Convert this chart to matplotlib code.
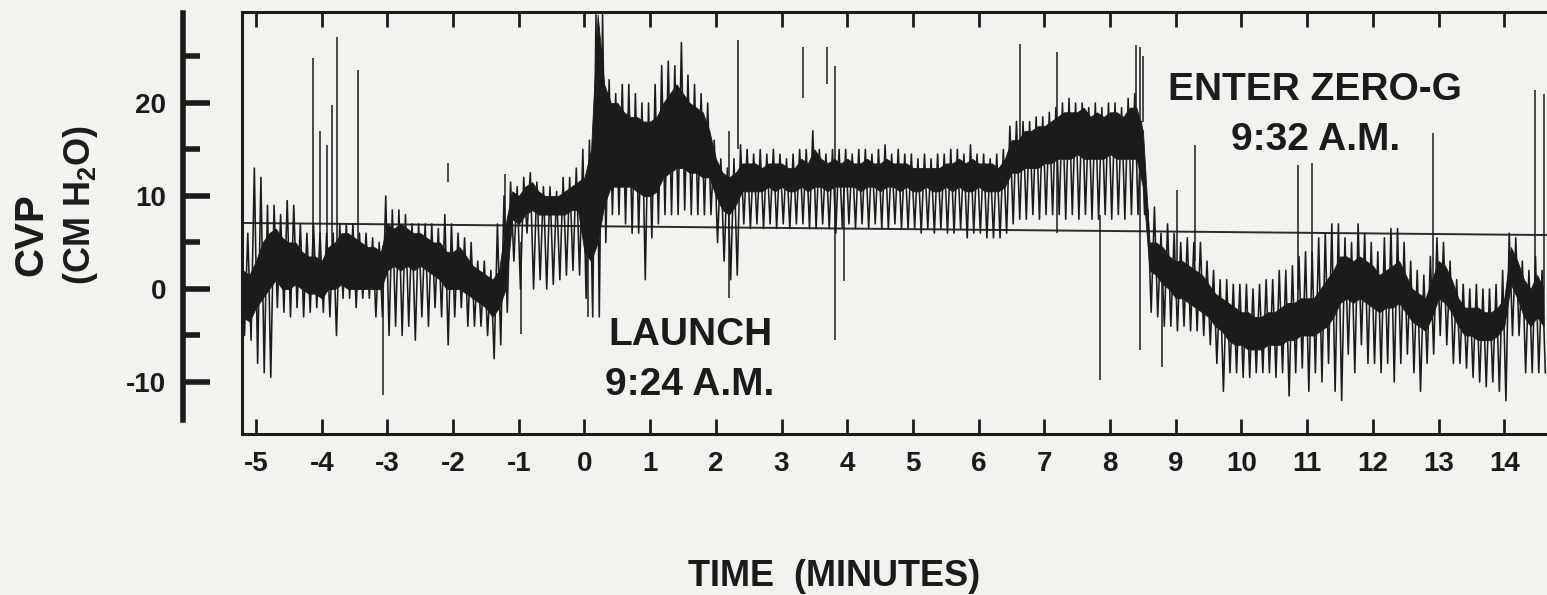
import numpy as np
import matplotlib
matplotlib.use('Agg')
import matplotlib.pyplot as plt

plt.rcParams['font.family'] = ['Liberation Sans', 'DejaVu Sans']
plt.rcParams['font.weight'] = 'bold'
plt.rcParams['axes.unicode_minus'] = False
plt.rcParams['mathtext.fontset'] = 'custom'
plt.rcParams['mathtext.rm'] = 'Liberation Sans:bold'
plt.rcParams['mathtext.it'] = 'Liberation Sans:bold'
plt.rcParams['mathtext.bf'] = 'Liberation Sans:bold'

# ---------------- data ----------------
# trace sampled every 0.1 min starting at -5.2 min
T0 = -5.2
STEP = 0.1
# dense dark band of the CVP trace (cm H2O)
core_lo = [-3, -3.5, -2, -1, 0, 1, 0, 0, 0.5, 0,
           -0.5, -0.5, -1, 0, 0, 0.5, 0, 0, 0, 0,
           0, 0, 2, 2.5, 2, 2.5, 2, 2.5, 2, 1.5,
           1, 0, 0, 0, -0.5, -1, -1.5, -2, -3, -2,
           0, 7.5, 7, 8, 8.5, 8, 8, 8, 8, 8,
           8.5, 8.5, 4, 3, 5, 9, 11, 11, 11, 11,
           10.5, 10, 10, 10.5, 12, 12.5, 13, 13, 12.5, 12.5,
           12, 12, 10, 8.5, 8, 9, 10.5, 10.5, 10.5, 10.5,
           11, 10.5, 11, 10.5, 10.5, 11, 10.5, 11, 11, 10.5,
           11, 11, 11, 11, 10.5, 11, 11, 10.5, 11, 11,
           10.5, 11, 10.5, 10.5, 11, 10.5, 10.5, 11, 10.5, 11,
           10.5, 10.5, 11, 10.5, 10.5, 10.5, 11, 12.5, 12.5, 13,
           13, 13, 13.5, 13.5, 14, 14, 14, 14.5, 14, 14,
           14, 14, 14.5, 14, 14, 14, 14, 11, 2, 1.5,
           0.5, 0, -1, -1, -1.5, -2, -2.5, -3, -4, -4.5,
           -5.5, -6, -6, -6.5, -6.5, -6.5, -6, -6, -6, -5.5,
           -5.5, -5, -5, -5, -4.5, -4, -3, -1.5, -1, -1.5,
           -1, -1.5, -2, -2.5, -2, -2, -1.5, -2.5, -3.5, -4,
           -4.5, -3, -1, -1.5, -2.5, -4, -5, -5, -5.5, -5.5,
           -5.5, -5, -4, 0.5, -1, -3, -4, -3, -4]
core_hi = [2, 1.5, 3, 5, 6, 6.5, 5.5, 5, 5, 4,
           3.5, 3.5, 3, 4.5, 5, 6, 6, 5.5, 5, 4.5,
           4.5, 4, 7, 6.5, 7, 6.5, 6, 6, 5.5, 5,
           5, 4, 4, 4.5, 3.5, 2.5, 2, 1.5, 1, 2,
           7, 10.5, 10, 11, 11.5, 10.5, 10, 10, 10, 10.5,
           11, 11.5, 12, 15, 29.5, 22, 20, 20, 19, 18.5,
           18.5, 18, 18, 18.5, 20, 21, 22, 21, 20, 19.5,
           19, 17, 14, 12.5, 12, 12.5, 13.5, 13.5, 13.5, 13,
           13.5, 13.5, 13.5, 13, 13, 14, 13.5, 15, 14, 13.5,
           14, 13.5, 14, 13.5, 13.5, 14, 13.5, 13.5, 14, 13.5,
           13.5, 13.5, 13, 13, 13, 13, 13, 13.5, 13.5, 14,
           13.5, 14, 13.5, 13.5, 13.5, 13, 14, 16, 16, 17,
           17, 17.5, 17.5, 18, 18.5, 19, 19, 19, 19.5, 18.5,
           19, 18.5, 19, 19, 18.5, 19.5, 19.5, 17, 5, 5,
           4.5, 3.5, 3, 3, 2.5, 2, 1.5, 0.5, -0.5, -1,
           -1.5, -2, -2.5, -2.5, -3, -3, -2.5, -2.5, -2, -1.5,
           -1.5, -1, -1, -1, 0, 1, 2, 3.5, 3.5, 3,
           3.5, 3, 2.5, 1.5, 2, 2.5, 3, 1.5, 0, -0.5,
           -1, 1, 3, 2.5, 1, -1, -2, -2, -2, -2.5,
           -2.5, -2, -1, 4.5, 3, 1, 0, 1.5, 0]
# extent of the thin oscillation strokes around the band
wh_lo = [-5, -5.5, -8, -9, -9.5, -2, -2.5, -3, -2, -3,
         -2.5, -2, -2.5, -3, -5, -1, -1, -2, -1, -1,
         -3, -3, -5, -4, -5, -4, -5.5, -3, -4, -2,
         -3, -6, -3, -2, -4, -4, -4, -5, -7.5, -6,
         -2.5, 3, 0, 6, 0, 1, 0, 0.5, 1, 1.5,
         2, 1.5, -1, -3, -3, 5, 8, 8, 7, 6,
         6, 1, 5.5, 7, 8, 8, 8, 8.5, 8, 8,
         8, 8, 5, 3, 1, 1.5, 7, 6.5, 7, 6.5,
         7, 6.5, 7, 6.5, 7, 7, 6.5, 6.5, 7, 6.5,
         6, 6.5, 7, 6.5, 7, 6.5, 7, 6.5, 6.5, 7,
         6.5, 6.5, 6.5, 6, 6.5, 6, 6.5, 6, 6, 6.5,
         5.5, 6, 6, 5.5, 5.5, 5.5, 6, 7, 7.5, 7.5,
         8, 7.5, 8, 8, 8, 7.5, 8, 7.5, 8, 7.5,
         7.5, 8, 7.5, 8, 7.5, 8, 8, 8, -2.5, -3,
         -4, -4, -4.5, -4, -4.5, -4.5, -5, -6, -8, -11,
         -9, -9, -9.5, -9.5, -9, -9, -9, -9.5, -9, -11.5,
         -9, -8.5, -11, -9, -10, -8, -11, -12, -7, -9,
         -6, -8, -8, -9, -8, -10, -8, -7, -9, -11,
         -8, -7, -5, -6, -8, -8, -8.5, -9.5, -10, -10.5,
         -10, -11, -12, -5, -5, -9, -9, -9, -9]
wh_hi = [5, 6, 13, 12, 9, 9, 8, 9.5, 9, 7,
         6, 7, 6, 6, 6, 7, 7, 7, 6, 6,
         5.5, 5, 10, 8.5, 8.5, 8, 7, 7, 7, 7,
         6.5, 8, 7, 6, 5.5, 5, 3, 3, 2, 7,
         10, 11.5, 11, 12, 12.5, 11.5, 11, 11, 10.5, 12,
         12, 13, 15, 16, 29.5, 29.5, 22.5, 21, 22, 22,
         21, 20, 20, 22, 24, 24.5, 24, 26.5, 23, 22,
         21, 20, 16, 14, 13, 14, 15.5, 15, 14.5, 15,
         14.5, 15, 14.5, 14, 14.5, 15, 15, 17, 15, 14.5,
         15, 15, 15, 14.5, 15, 15, 14.5, 15, 15.5, 14.5,
         15, 14.5, 14.5, 14, 14.5, 14, 14.5, 14.5, 15, 15,
         14.5, 15.5, 14.5, 14.5, 14, 14.5, 15, 17.5, 18, 18,
         18, 18.5, 18.5, 19, 19.5, 20, 20.5, 20, 20, 19.5,
         20, 19.5, 20, 20, 19.5, 20.5, 21, 18, 8.5, 8.8,
         6, 7, 6, 5, 5.5, 5, 5, 3, 2, 1,
         1, 0.5, 0.5, 0.5, 0, 0.5, 1, 1, 2, 2,
         2.5, 3.5, 4, 4, 5.5, 6, 7, 7, 5.5, 5,
         7, 6, 5, 4, 5.5, 6.5, 6.5, 5, 3, 2,
         1.5, 3.5, 5.5, 5, 3, 1, 0.5, 0, 0.5, 0,
         0, 0.5, 2, 6, 5.5, 3, 2, 3.5, 2]
# isolated artefact spikes: time (min), lower and upper end (cm H2O)
spike_t = [-4.13, -4.03, -3.92, -3.85, -3.77, -3.45, -3.07, -2.08, -1.21, -0.96,
           0.05, 2.2, 2.34, 3.33, 3.69, 3.82, 3.95, 6.63, 7.19, 7.85,
           8.4, 8.45, 8.5, 8.79, 9.02, 9.29, 10.86, 11.07, 12.92, 14.47, 14.6]
spike_lo = [3, 3, 3, 3, 3, 3, -11.4, 11.5, 5, -4.8,
            -3, -1, 15, 20.5, 22, -5.5, 0.9, 13, 6, -9.8,
            14, -6.6, 18, -8.4, 3, 3, 0, 0, 1, 0, 0]
spike_hi = [24.8, 17, 15.5, 19.8, 27.1, 23.5, 2, 13.5, 12.4, 5,
            12, 17, 26.8, 26, 26, 24, 12, 26.3, 25.5, 8,
            26.2, 26, 25, 3, 10.6, 15.5, 13.3, 13.5, 16.8, 21.4, 21]
# pre-launch reference level line
base_t = [-5.21, 14.65]
base_v = [7.1, 5.8]
# axis ticks
x_ticks = list(range(-5, 15))
x_labels = [str(v) for v in x_ticks]
y_major = [-10, 0, 10, 20]
y_minor = [-5, 5, 15, 25]

# ---------------- figure ----------------
W, H = 1547, 595
fig = plt.figure(figsize=(W / 100, H / 100), dpi=100)
bg = '#f2f2ef'
ink = '#1b1b1b'
fig.patch.set_facecolor(bg)


def fx(p):
    return p / W


def fy(p):
    return 1 - p / H


ax = fig.add_axes([fx(242), fy(434), (1560 - 242) / W, (434 - 12) / H])
ax.set_facecolor(bg)
ax.set_xlim(-5.213, 14.848)
ax.set_ylim(-15.59, 29.78)

t = T0 + STEP * np.arange(len(core_lo))
core_lo = np.array(core_lo)
core_hi = np.array(core_hi)
wh_lo = np.array(wh_lo)
wh_hi = np.array(wh_hi)

ax.fill_between(t, core_lo, core_hi, color=ink, lw=0.6, zorder=3)
zig_t = np.column_stack([t - STEP / 4, t + STEP / 4]).ravel()
zig_v = np.column_stack([wh_hi, wh_lo]).ravel()
ax.plot(zig_t, zig_v, color=ink, lw=1.15, zorder=3)
ax.vlines(spike_t, spike_lo, spike_hi, color=ink, lw=1.1, zorder=3)
ax.plot(base_t, base_v, color='#2a2a2a', lw=1.4, zorder=2)

for s in ax.spines.values():
    s.set_linewidth(2.2)
    s.set_color(ink)
ax.set_xticks(x_ticks)
ax.set_xticklabels(x_labels)
ax.set_yticks([])
ax.tick_params(axis='x', which='both', direction='in', top=True, bottom=True,
               length=11, width=2, labelsize=20, pad=12, colors=ink)

# separate CVP scale
ax2 = fig.add_axes([fx(183), fy(434), 0.0005, (434 - 12) / H])
ax2.set_ylim(-15.59, 29.78)
ax2.patch.set_visible(False)
for k in ['top', 'right', 'bottom']:
    ax2.spines[k].set_visible(False)
ax2.spines['left'].set_linewidth(4)
ax2.spines['left'].set_color(ink)
ax2.spines['left'].set_bounds(-14.1, 29.7)
ax2.set_xticks([])
ax2.set_yticks(y_major)
ax2.set_yticklabels([str(v) for v in y_major])
ax2.set_yticks(y_minor, minor=True)
ax2.tick_params(axis='y', which='major', direction='in', length=19.5, width=4,
                labelsize=20, pad=12, colors=ink)
ax2.tick_params(axis='y', which='minor', direction='in', length=12, width=4, colors=ink)

# annotations
txt = dict(ha='center', va='baseline', fontsize=28, fontweight='bold', color=ink)
ax.text(1.606, -6.02, 'LAUNCH', **txt)
ax.text(1.606, -11.4, '9:24 A.M.', **txt)
ax.text(11.12, 20.3, 'ENTER ZERO-G', **txt)
ax.text(11.13, 14.95, '9:32 A.M.', **txt)

fig.text(fx(834), fy(586), 'TIME  (MINUTES)', ha='center', va='baseline',
         fontsize=26, fontweight='bold', color=ink)
fig.text(fx(31), fy(235), 'CVP', rotation=90, ha='center', va='center',
         fontsize=29, fontweight='bold', color=ink)
fig.text(fx(80), fy(205), r'(CM H$_2$O)', rotation=90, ha='center', va='center',
         fontsize=26, fontweight='bold', color=ink)

fig.savefig('out.png', dpi=100, facecolor=bg)
